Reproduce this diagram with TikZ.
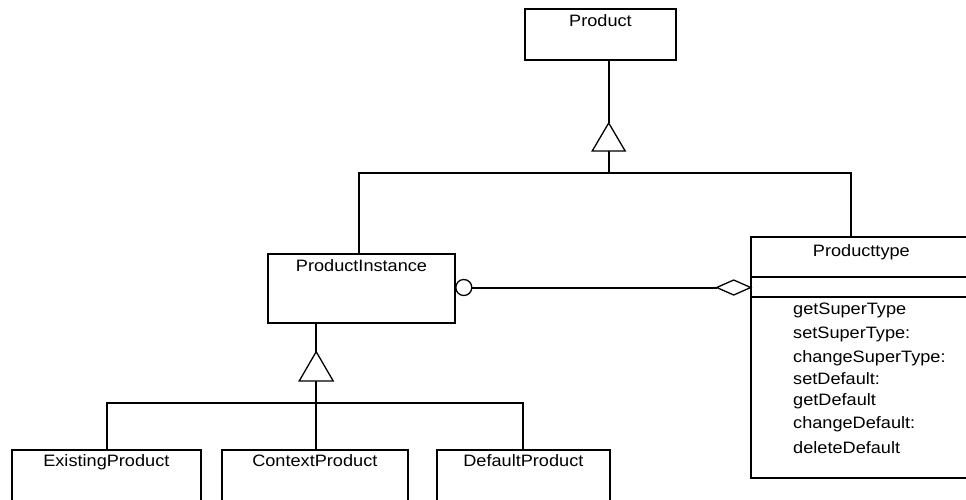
\documentclass[tikz,border=0pt]{standalone}
\usepackage{fontspec}
\setmainfont{Liberation Sans}[FakeStretch=1.1]
\begin{document}
\begin{tikzpicture}[x=1pt,y=-1pt,
  cls/.style={draw, line width=2pt, inner sep=0pt, outer sep=0pt, rectangle},
  title/.style={anchor=base, inner sep=0pt, font=\fontsize{16.5}{20}\selectfont},
  op/.style={anchor=base west, inner sep=0pt, font=\fontsize{16.5}{20}\selectfont},
  link/.style={line width=2pt},
  head/.style={line width=1.3pt, fill=white, line join=miter}]
\useasboundingbox (0,0) rectangle (966,499);
\clip (0,0) rectangle (966,499);

% classes
\node[cls, minimum width=151, minimum height=51] (product) at (600.5,34.5) {};
\node[cls, minimum width=187, minimum height=69] (pinst) at (361.5,288.5) {};
\node[cls, minimum width=221.3, minimum height=240.7] (ptype) at (861.35,357.35) {};
\node[cls, minimum width=189.3, minimum height=80] (existing) at (106.35,490) {};
\node[cls, minimum width=186.3, minimum height=80] (context) at (314.85,490) {};
\node[cls, minimum width=173.3, minimum height=80] (default) at (523.35,490) {};

% class names
\node[title] (productT) at ([yshift=-17pt]product.north) {Product};
\node[title] (pinstT) at ([yshift=-17pt]pinst.north) {ProductInstance};
\node[title] (ptypeT) at ([yshift=-19.5pt]ptype.north) {Producttype};
\node[title] (existingT) at ([yshift=-16pt]existing.north) {ExistingProduct};
\node[title] (contextT) at ([yshift=-16pt]context.north) {ContextProduct};
\node[title] (defaultT) at ([yshift=-16pt]default.north) {DefaultProduct};

% compartments of Producttype
\coordinate (sepA) at (0,276.7);
\coordinate (sepB) at (0,297);
\draw[link] (ptype.west |- sepA) -- (ptype.east |- sepA);
\draw[link] (ptype.west |- sepB) -- (ptype.east |- sepB);

% operations
\node[op] (op1) at (793,314) {getSuperType};
\node[op] (op2) at (793,338) {setSuperType:};
\node[op] (op3) at (793,362) {changeSuperType:};
\node[op] (op4) at (793,384.5) {setDefault:};
\node[op] (op5) at (793,405.5) {getDefault};
\node[op] (op6) at (793,428) {changeDefault:};
\node[op] (op7) at (793,453.5) {deleteDefault};

% generalization: Product
\coordinate (g1apex) at (608.7,123);
\coordinate (g1base) at (608.7,151);
\coordinate (bus1) at (608.7,173.3);
\coordinate (bus1L) at (359,173.3);
\coordinate (bus1R) at (850.7,173.3);
\draw[link] (product.south -| g1apex) -- (g1apex);
\draw[link] (g1base) -- (bus1);
\draw[head] (g1apex) -- ++(-16.5,28) -- ++(33,0) -- cycle;
\draw[link] (pinst.north -| bus1L) -- (bus1L) -- (bus1R) -- (ptype.north -| bus1R);

% generalization: ProductInstance
\coordinate (g2apex) at (316.2,351.7);
\coordinate (g2base) at (316.2,381);
\coordinate (bus2) at (316.2,403);
\coordinate (bus2L) at (106.6,403);
\coordinate (bus2R) at (522.7,403);
\draw[link] (pinst.south -| g2apex) -- (g2apex);
\draw[link] (g2base) -- (bus2);
\draw[head] (g2apex) -- ++(-17,29.3) -- ++(34,0) -- cycle;
\draw[link] (existing.north -| bus2L) -- (bus2L) -- (bus2R) -- (default.north -| bus2R);
\draw[link] (bus2) -- (context.north -| bus2);

% association ProductInstance -- Producttype
\node[draw, circle, line width=1.3pt, fill=white, inner sep=0pt, minimum size=16pt] (assocO) at (463.8,287.5) {};
\coordinate (dR) at (ptype.west |- 0,287.5);
\coordinate (dL) at (716.7,287.5);
\draw[link] (assocO.east) -- (dL);
\draw[head] (dR) -- ++(-17,-7.5) -- (dL) -- ++(17,7.5) -- cycle;
\end{tikzpicture}
\end{document}
